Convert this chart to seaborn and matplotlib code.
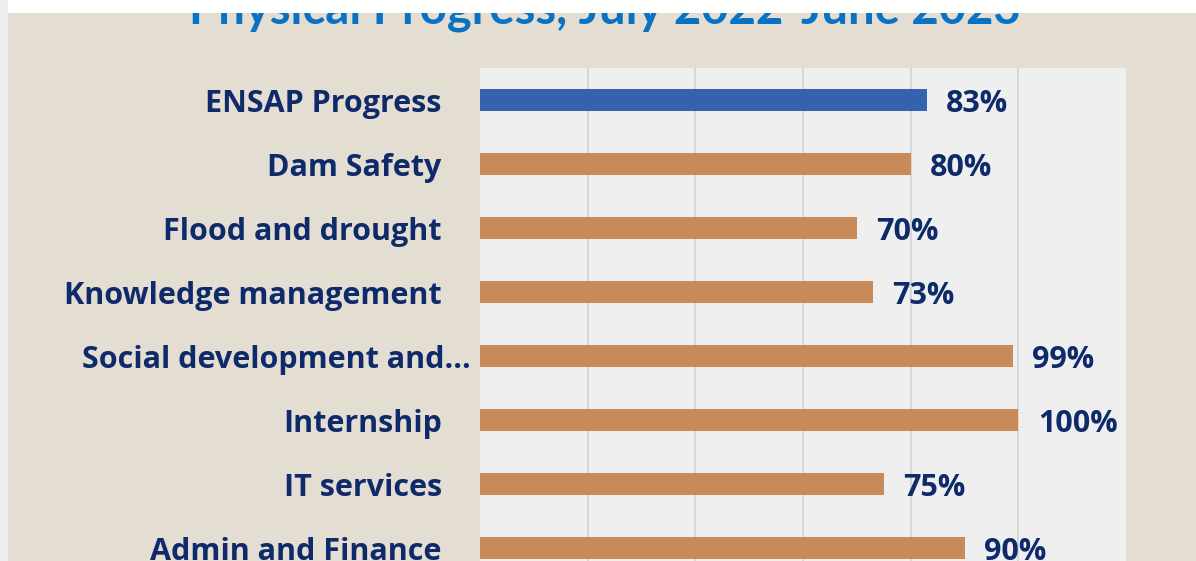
import matplotlib.pyplot as plt
import matplotlib.transforms as mtransforms
from matplotlib.patches import Rectangle
import seaborn as sns
import pandas as pd

# data
categories = [
    "ENSAP Progress",
    "Dam Safety",
    "Flood and drought",
    "Knowledge management",
    "Social development and...",
    "Internship",
    "IT services",
    "Admin and Finance",
]
progress = [0.83, 0.80, 0.70, 0.73, 0.99, 1.00, 0.75, 0.90]
value_labels = ["83%", "80%", "70%", "73%", "99%", "100%", "75%", "90%"]
title = "Physical Progress, July 2022-June 2023"

NAVY = "#0E2A6B"
BLUE = "#3562AE"
TAN = "#C88A59"

sns.set_style("white")
plt.rcParams["font.family"] = ["Open Sans", "DejaVu Sans"]

df = pd.DataFrame({"category": categories, "progress": progress})
palette = {c: (BLUE if i == 0 else TAN) for i, c in enumerate(categories)}

fig = plt.figure(figsize=(11.96, 5.61), dpi=100)
fig.patch.set_facecolor("#E4DDD1")
ax = fig.add_axes([480 / 1196, 0, 646 / 1196, 1 - 68 / 561])
ax.set_facecolor("#EFEFEF")

sns.barplot(data=df, x="progress", y="category", hue="category", palette=palette,
            legend=False, width=0.35, orient="h", saturation=1, linewidth=0,
            ax=ax, zorder=3)

ax.set_xlim(0, 1.2)
ax.set_ylim(7.2, -0.5)
ax.set_xticks([0.2, 0.4, 0.6, 0.8, 1.0])
ax.xaxis.grid(True, color="#D2D2D2", lw=1.2, zorder=0)
ax.set_axisbelow(True)
ax.tick_params(axis="x", bottom=False, labelbottom=False)
ax.tick_params(axis="y", left=False, pad=24)
ax.set_xlabel("")
ax.set_ylabel("")
for s in ax.spines.values():
    s.set_visible(False)

for lbl in ax.get_yticklabels():
    lbl.set_fontsize(22)
    lbl.set_fontweight("bold")
    lbl.set_color(NAVY)
    if lbl.get_text().startswith("Social"):
        lbl.set_transform(lbl.get_transform() + mtransforms.ScaledTranslation(0.29, 0, fig.dpi_scale_trans))

for i, (v, t) in enumerate(zip(progress, value_labels)):
    ax.annotate(t, (v, i), xytext=(14, -3), textcoords="offset points",
                ha="left", va="center", fontsize=22, fontweight="bold", color=NAVY)

fig.text(605 / 1196, 1 - 24 / 561, title, ha="center", va="baseline",
         fontsize=34, fontweight="bold", color="#0A72C4", family=["Lato", "DejaVu Sans"])

# white band at the top and thin strip at the left, as in the screenshot
fig.patches.append(Rectangle((0, 1 - 13 / 561), 1, 13 / 561, transform=fig.transFigure,
                             facecolor="white", edgecolor="none", zorder=10))
fig.patches.append(Rectangle((0, 0), 8 / 1196, 1, transform=fig.transFigure,
                             facecolor="#EEEEEE", edgecolor="none", zorder=10))

fig.savefig("out.png", dpi=100, facecolor=fig.get_facecolor())
